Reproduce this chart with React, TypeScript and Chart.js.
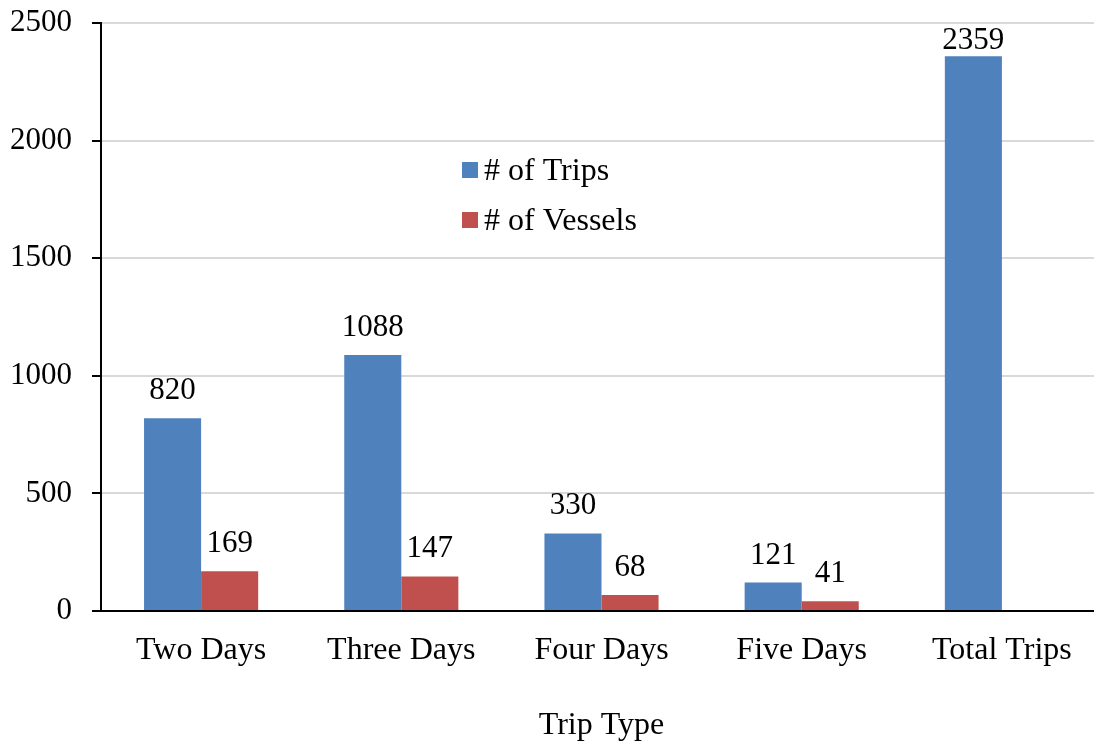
import React, { useEffect, useRef } from "react";
import { Chart, registerables } from "chart.js";

Chart.register(...registerables);

const categories = ["Two Days", "Three Days", "Four Days", "Five Days", "Total Trips"];
const tripsValues = [820, 1088, 330, 121, 2359];
const vesselValues: (number | null)[] = [169, 147, 68, 41, null];
const seriesLabels = ["# of Trips", "# of Vessels"];
const yTicks = [0, 500, 1000, 1500, 2000, 2500];
const axisTitle = "Trip Type";

const BLUE = "#4F81BD";
const RED = "#C0504D";
const FONT = "'Liberation Serif', 'Times New Roman', serif";

const valueLabelPlugin = {
  id: "valueLabels",
  afterDatasetsDraw(chart: any) {
    const ctx = chart.ctx;
    ctx.save();
    ctx.font = `31px ${FONT}`;
    ctx.fillStyle = "#000";
    ctx.textAlign = "center";
    ctx.textBaseline = "alphabetic";
    chart.data.datasets.forEach((ds: any, di: number) => {
      const meta = chart.getDatasetMeta(di);
      meta.data.forEach((el: any, i: number) => {
        const v = ds.data[i];
        if (v === null || v === undefined) return;
        const y = Math.max(el.y - 19, chart.chartArea.top + 26);
        ctx.fillText(String(v), el.x, y);
      });
    });
    ctx.restore();
  },
};

const legendPlugin = {
  id: "insideLegend",
  afterDraw(chart: any) {
    const ctx = chart.ctx;
    ctx.save();
    ctx.font = `32px ${FONT}`;
    ctx.textBaseline = "middle";
    ctx.textAlign = "left";
    const x0 = 462;
    const y0 = 170;
    const gap = 50;
    chart.data.datasets.forEach((ds: any, i: number) => {
      const y = y0 + i * gap;
      ctx.fillStyle = ds.backgroundColor;
      ctx.fillRect(x0, y - 8, 16, 16);
      ctx.fillStyle = "#000";
      ctx.fillText(ds.label, x0 + 22, y + 2);
    });
    ctx.restore();
  },
};

export default function App() {
  const ref = useRef<HTMLCanvasElement>(null);
  useEffect(() => {
    if (!ref.current) return;
    const chart = new Chart(ref.current, {
      type: "bar",
      data: {
        labels: categories,
        datasets: [
          { label: seriesLabels[0], data: tripsValues, backgroundColor: BLUE },
          { label: seriesLabels[1], data: vesselValues, backgroundColor: RED },
        ],
      },
      options: {
        responsive: false,
        animation: false,
        layout: { padding: { left: 0, top: 23, right: 0, bottom: 0 } },
        plugins: {
          legend: { display: false },
          tooltip: { enabled: false },
        },
        datasets: {
          bar: { categoryPercentage: 0.57, barPercentage: 1 },
        },
        scales: {
          x: {
            grid: { display: false },
            border: { display: true, color: "#000", width: 2 },
            ticks: { color: "#000", font: { family: FONT, size: 32 }, padding: 12, maxRotation: 0 },
            title: { display: true, text: axisTitle, color: "#000", font: { family: FONT, size: 32 }, padding: { top: 0, bottom: -3 } },
            afterFit: (scale: any) => {
              scale.height = 131;
              scale.paddingLeft = 0;
              scale.paddingRight = 0;
            },
          },
          y: {
            min: 0,
            max: 2500,
            afterBuildTicks: (scale: any) => {
              scale.ticks = yTicks.map((v) => ({ value: v }));
            },
            grid: { color: "#D9D9D9", lineWidth: 2, tickColor: "#000", tickLength: 9, tickWidth: 2 },
            border: { display: true, color: "#000", width: 2 },
            ticks: { color: "#000", font: { family: FONT, size: 31 }, padding: 20, callback: (v: any) => String(v) },
            afterFit: (scale: any) => {
              scale.width = 101;
              scale.paddingTop = 0;
              scale.paddingBottom = 0;
            },
          },
        },
      },
      plugins: [valueLabelPlugin, legendPlugin],
    });
    return () => chart.destroy();
  }, []);
  return (
    <div style={{ position: "absolute", left: 0, top: 0, width: 1094, height: 742, overflow: "hidden" }}>
      <canvas ref={ref} width={1102} height={742} style={{ width: 1102, height: 742, display: "block" }} />
    </div>
  );
}
